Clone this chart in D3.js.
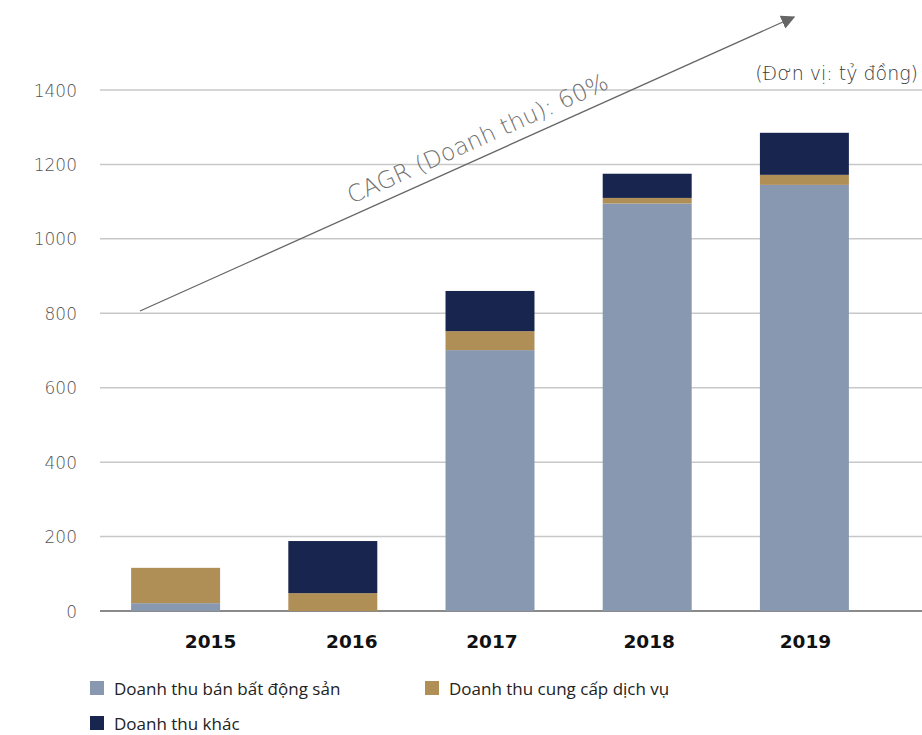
<!DOCTYPE html>
<html><head><meta charset="utf-8">
<script src="https://cdn.jsdelivr.net/npm/d3@7"></script>
<style>body{margin:0;background:#fff}svg{display:block}</style>
</head><body>
<svg id="c" width="922" height="735"></svg>
<script>
const years = ["2015","2016","2017","2018","2019"];
const bdsValues = [21, 0, 701, 1095, 1145];
const dichVuValues = [95, 48, 51, 15, 27];
const khacValues = [0, 140, 108, 65, 113];
const seriesNames = ["Doanh thu bán bất động sản","Doanh thu cung cấp dịch vụ","Doanh thu khác"];
const seriesColors = ["#8798b0","#b08f57","#17254f"];
const yTicks = [0,200,400,600,800,1000,1200,1400];
const unitLabel = "(Đơn vị: tỷ đồng)";
const cagrLabel = "CAGR (Doanh thu): 60%";

const svg = d3.select("#c");
const x = d3.scaleBand().domain(years).range([97, 883]).paddingInner(0.434).paddingOuter(0.217);
const y = d3.scaleLinear().domain([0,1400]).range([611, 90]);
const lightFont = "'DejaVu Sans', sans-serif";

// gridlines
const grid = svg.append("g");
grid.selectAll("line").data(yTicks).join("line")
  .attr("x1",100).attr("x2",922)
  .attr("y1",d=>y(d)).attr("y2",d=>y(d))
  .attr("stroke",d=>d===0?"#8a8a8a":"#c8c8c8").attr("stroke-width",d=>d===0?2:1.5);

// y labels
const yAxis = d3.axisLeft(y).tickValues(yTicks).tickSize(0).tickPadding(0).tickFormat(d3.format("d"));
const ya = svg.append("g").attr("transform","translate(77,0)").call(yAxis);
ya.select(".domain").remove();
ya.selectAll("text").attr("font-family",lightFont).attr("font-weight",200).attr("font-size",17).attr("fill","#555").attr("dy","0.36em");

// stacked data
const rows = years.map((yr,i)=>({year:yr, a:bdsValues[i], b:dichVuValues[i], c:khacValues[i]}));
const stack = d3.stack().keys(["a","b","c"])(rows);
svg.append("g").selectAll("g").data(stack).join("g")
  .attr("fill",(d,i)=>seriesColors[i])
  .selectAll("rect").data(d=>d.filter(s=>s[1]-s[0]>0)).join("rect")
  .attr("x",d=>x(d.data.year)).attr("width",x.bandwidth())
  .attr("y",d=>y(d[1])).attr("height",d=>y(d[0])-y(d[1]));

// x labels (the original places the first two labels slightly right of their bars)
const labelShift = {"2015":35,"2016":19,"2017":2,"2018":2,"2019":1};
const xAxis = d3.axisBottom(x).tickSize(0).tickPadding(0);
const xa = svg.append("g").attr("transform","translate(0,648)").call(xAxis);
xa.select(".domain").remove();
xa.selectAll("text").attr("dy",0).attr("dx",d=>labelShift[d]||0)
  .attr("font-family",lightFont).attr("font-weight","bold").attr("font-size",18.5).attr("fill","#111");

// unit label
svg.append("text").attr("x",918).attr("y",80).attr("text-anchor","end")
  .attr("font-family",lightFont).attr("font-weight",200).attr("font-size",19).attr("fill","#3a3a3a").text(unitLabel);

// CAGR arrow
const defs = svg.append("defs");
defs.append("marker").attr("id","ah").attr("viewBox","0 0 10 10").attr("refX",9).attr("refY",5)
  .attr("markerWidth",14).attr("markerHeight",14).attr("markerUnits","userSpaceOnUse").attr("orient","auto")
  .append("path").attr("d","M0,0 L10,5 L0,10 z").attr("fill","#666");
const ax0=140, ay0=311, ax1=794, ay1=17;
svg.append("line").attr("x1",ax0).attr("y1",ay0).attr("x2",ax1).attr("y2",ay1)
  .attr("stroke","#666").attr("stroke-width",1.3).attr("marker-end","url(#ah)");
const ang = Math.atan2(ay1-ay0, ax1-ax0)*180/Math.PI;
svg.append("text").attr("transform",`translate(481,146) rotate(${ang})`).attr("text-anchor","middle")
  .attr("font-family",lightFont).attr("font-weight",200).attr("font-size",23.5).attr("fill","#707070").text(cagrLabel);

// legend
const legPos = [[90,681],[425,681],[90,716]];
const leg = svg.append("g").selectAll("g").data(seriesNames).join("g")
  .attr("transform",(d,i)=>`translate(${legPos[i][0]},${legPos[i][1]})`);
leg.append("rect").attr("width",14).attr("height",14).attr("fill",(d,i)=>seriesColors[i]);
leg.append("text").attr("x",24).attr("y",14).attr("font-family","'Open Sans', sans-serif").attr("font-size",17)
  .attr("fill","#222").text(d=>d);
</script>
</body></html>
